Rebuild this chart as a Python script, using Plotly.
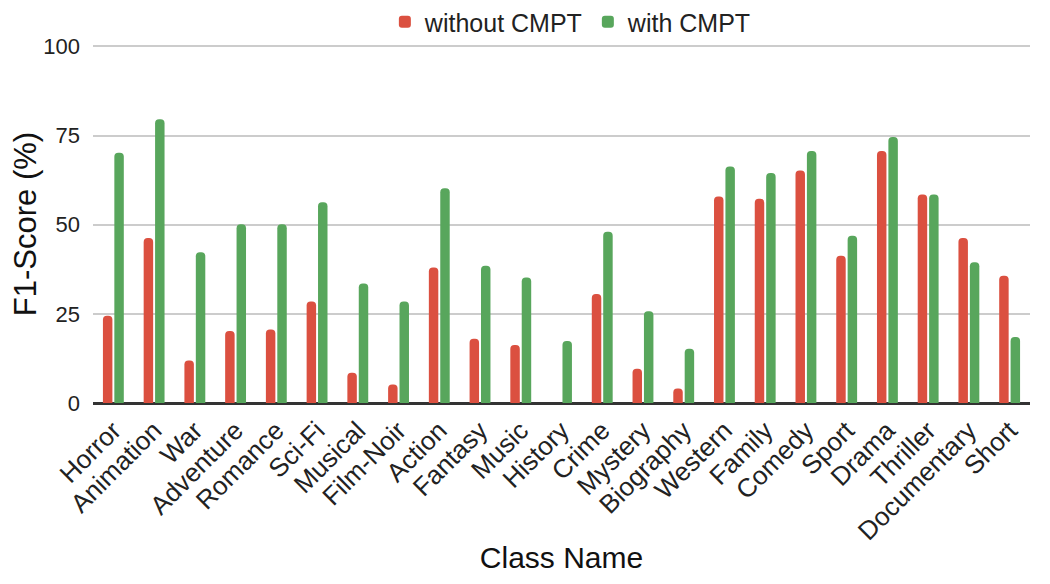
import plotly.graph_objects as go

categories = ["Horror", "Animation", "War", "Adventure", "Romance", "Sci-Fi", "Musical",
              "Film-Noir", "Action", "Fantasy", "Music", "History", "Crime", "Mystery",
              "Biography", "Western", "Family", "Comedy", "Sport", "Drama", "Thriller",
              "Documentary", "Short"]
without_cmpt = [24.5, 46.3, 11.9, 20.2, 20.6, 28.5, 8.5, 5.2, 38.0, 18.0, 16.3, 0.0,
                30.6, 9.6, 4.1, 57.9, 57.3, 65.2, 41.3, 70.7, 58.5, 46.3, 35.7]
with_cmpt = [70.2, 79.6, 42.3, 50.1, 50.1, 56.3, 33.5, 28.5, 60.2, 38.5, 35.2, 17.4,
             48.0, 25.7, 15.2, 66.3, 64.5, 70.7, 46.9, 74.6, 58.5, 39.5, 18.5]
y_ticks = [0, 25, 50, 75, 100]

fig = go.Figure()
fig.add_trace(go.Bar(name="without CMPT", x=categories, y=without_cmpt,
                     marker=dict(color="#DB5040", cornerradius=5, line=dict(width=0))))
fig.add_trace(go.Bar(name="with CMPT", x=categories, y=with_cmpt,
                     marker=dict(color="#58A65C", cornerradius=5, line=dict(width=0))))

fig.update_layout(
    width=1050, height=584,
    barmode="group", bargap=0.44, bargroupgap=0.17,
    plot_bgcolor="white", paper_bgcolor="white",
    font=dict(family="Liberation Sans, Arial, sans-serif", color="#222"),
    margin=dict(l=85, r=28, t=37, b=189, autoexpand=False),
    legend=dict(orientation="h", x=0.51, xanchor="center", y=1.064, yanchor="middle",
                bgcolor="rgba(0,0,0,0)",
                font=dict(size=25, color="#222"), itemwidth=30, traceorder="normal"),
    xaxis=dict(tickangle=-45, tickfont=dict(size=26, color="#222"), automargin=False,
               title=dict(text="Class Name", font=dict(size=30, color="#111"), standoff=2),
               showline=True, linecolor="#333", linewidth=2, ticks="", showgrid=False),
    yaxis=dict(range=[0, 100.4], tickvals=y_ticks, tickfont=dict(size=22, color="#222"),
               automargin=False,
               title=dict(text="F1-Score (%)", font=dict(size=31, color="#111"), standoff=4),
               showgrid=True, gridcolor="#CCCCCC", gridwidth=1.5,
               zeroline=True, zerolinecolor="#333", zerolinewidth=2,
               ticklabelstandoff=12),
)
fig.write_html("out.html")
